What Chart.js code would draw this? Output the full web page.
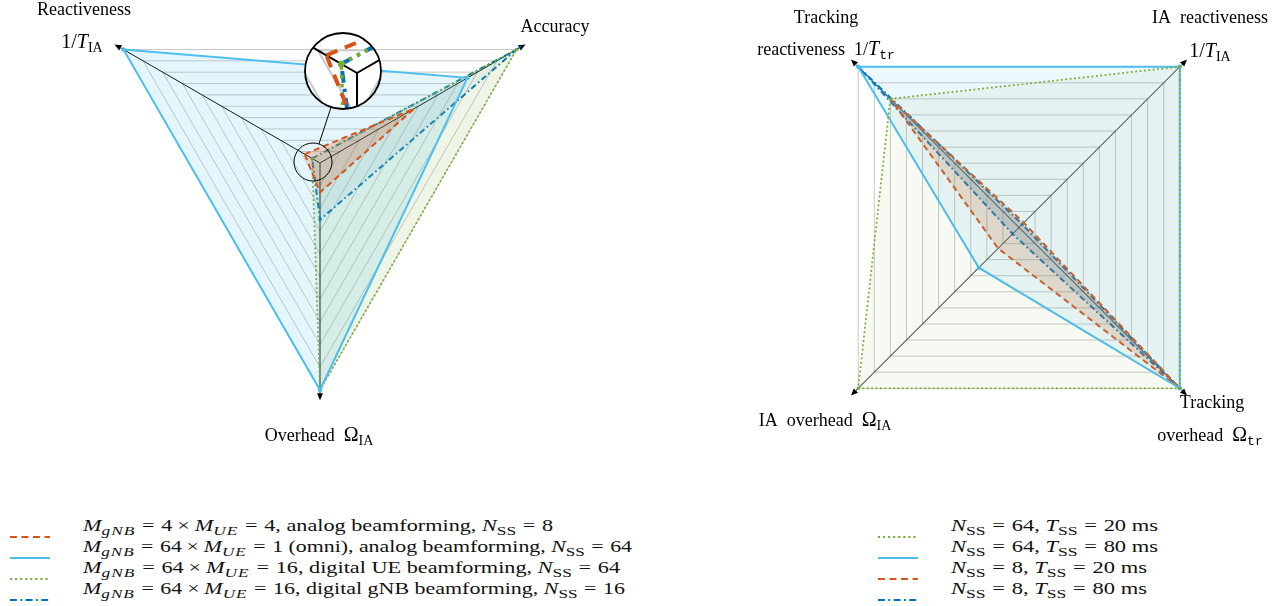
<!DOCTYPE html>
<html>
<head>
<meta charset="utf-8">
<title>IA / tracking radar charts</title>
<script src="https://cdn.jsdelivr.net/npm/chart.js@4.4.1/dist/chart.umd.min.js"></script>
<style>
  html, body { margin:0; padding:0; background:#fff; }
  body { width:1281px; height:606px; position:relative; overflow:hidden; color:#000; }
  canvas { position:absolute; top:0; }
  #left { left:0; }
  #right { left:640px; }
  .sw { position:absolute; }
  .lt { position:absolute; white-space:nowrap; font-family:'Liberation Serif','Times New Roman','DejaVu Serif',serif; font-size:17px; line-height:20px; transform-origin:0 50%; color:#111; }
  .lt sub { font-size:78%; vertical-align:-0.3em; line-height:0; }
  .lt sub i { letter-spacing:0.06em; }
  .lt .eq { margin:0 0.3em; }
  .lt .op { margin:0 0.22em; }
</style>
</head>
<body>
<canvas id="left" width="640" height="480"></canvas>
<canvas id="right" width="641" height="480"></canvas>
<div id="legend"></div>
<script>
// ---------------- data ----------------
// Left chart: axes in drawing order (clockwise starting at upper-left)
const LEFT_AXES = ['Reactiveness', 'Accuracy', 'Overhead'];
const LEFT_ANALOG_4X4   = [0.078, 0.48, 0.13];   // M_gNB=4 x M_UE=4, analog, N_SS=8
const LEFT_OMNI_64      = [1.00, 0.75, 1.00];    // M_gNB=64 x M_UE=1 (omni), analog, N_SS=64
const LEFT_DIGITAL_UE   = [0.04, 1.00, 1.00];    // 64 x 16, digital UE, N_SS=64
const LEFT_DIGITAL_GNB  = [0.04, 1.00, 0.25];    // 64 x 16, digital gNB, N_SS=16

// Right chart: axes clockwise starting at upper-left
const RIGHT_AXES = ['Tracking reactiveness', 'IA reactiveness', 'Tracking overhead', 'IA overhead'];
const NSS64_TSS20 = [0.80, 1.00, 1.00, 1.00];
const NSS64_TSS80 = [1.00, 1.00, 1.00, 0.25];
const NSS8_TSS20  = [0.80, 0.03, 1.00, 0.13];
const NSS8_TSS80  = [1.00, 0.02, 1.00, 0.04];

const SCALE_MIN = 0, SCALE_MAX = 1, GRID_STEP = 0.1;

const LEFT_NAMES = [
  '<i>M</i><sub><i>gNB</i></sub><span class="eq">=</span>4<span class="op">×</span><i>M</i><sub><i>UE</i></sub><span class="eq">=</span>4, analog beamforming, <i>N</i><sub>SS</sub><span class="eq">=</span>8',
  '<i>M</i><sub><i>gNB</i></sub><span class="eq">=</span>64<span class="op">×</span><i>M</i><sub><i>UE</i></sub><span class="eq">=</span>1 (omni), analog beamforming, <i>N</i><sub>SS</sub><span class="eq">=</span>64',
  '<i>M</i><sub><i>gNB</i></sub><span class="eq">=</span>64<span class="op">×</span><i>M</i><sub><i>UE</i></sub><span class="eq">=</span>16, digital UE beamforming, <i>N</i><sub>SS</sub><span class="eq">=</span>64',
  '<i>M</i><sub><i>gNB</i></sub><span class="eq">=</span>64<span class="op">×</span><i>M</i><sub><i>UE</i></sub><span class="eq">=</span>16, digital gNB beamforming, <i>N</i><sub>SS</sub><span class="eq">=</span>16'
];
const RIGHT_NAMES = [
  '<i>N</i><sub>SS</sub><span class="eq">=</span>64, <i>T</i><sub>SS</sub><span class="eq">=</span>20 ms',
  '<i>N</i><sub>SS</sub><span class="eq">=</span>64, <i>T</i><sub>SS</sub><span class="eq">=</span>80 ms',
  '<i>N</i><sub>SS</sub><span class="eq">=</span>8, <i>T</i><sub>SS</sub><span class="eq">=</span>20 ms',
  '<i>N</i><sub>SS</sub><span class="eq">=</span>8, <i>T</i><sub>SS</sub><span class="eq">=</span>80 ms'
];

// ---------------- styles ----------------
const STY = {
  orange: { rgb:[217,83,25],  width:2,   dash:[6,4],         pr:0 },
  light:  { rgb:[77,190,238], width:2,   dash:[],            pr:2.2 },
  green:  { rgb:[119,172,48], width:1.8, dash:[1.8,2.6],     pr:1.6 },
  dark:   { rgb:[0,114,189],  width:2,   dash:[6,3,1.6,3],   pr:1.6 }
};
const rgba = (c, a) => `rgba(${c[0]},${c[1]},${c[2]},${a})`;

function ds(label, data, sty, alpha) {
  return {
    label, data, fill: true, clip: false,
    borderColor: rgba(sty.rgb, 1), backgroundColor: rgba(sty.rgb, alpha),
    borderWidth: sty.width, borderDash: sty.dash, borderJoinStyle: 'miter',
    pointRadius: sty.pr, pointBackgroundColor: rgba(sty.rgb, 1), pointBorderWidth: 0, pointHoverRadius: 0
  };
}

// ---------------- text helpers ----------------
const FONTS = {
  rm:  { font: "18px 'Liberation Serif'", dy: 0 },
  mr:  { font: "20px 'Liberation Serif'", dy: 0 },
  it:  { font: "italic 20px 'Liberation Serif'", dy: 0 },
  sub: { font: "14px 'Liberation Serif'", dy: 4 },
  tt:  { font: "13px 'Liberation Mono'", dy: 4 }
};
function drawRich(ctx, segs, cx, base) {
  let w = 0;
  for (const [t, k] of segs) { ctx.font = FONTS[k].font; w += ctx.measureText(t).width; }
  let x = cx - w / 2;
  ctx.textAlign = 'left'; ctx.textBaseline = 'alphabetic'; ctx.fillStyle = '#000';
  for (const [t, k] of segs) { ctx.font = FONTS[k].font; ctx.fillText(t, x, base + FONTS[k].dy); x += ctx.measureText(t).width; }
}

// ---------------- plugins ----------------
function drawAxes(chart) {
  const s = chart.scales.r, ctx = chart.ctx, n = chart.data.labels.length;
  ctx.save();
  ctx.setLineDash([]); ctx.strokeStyle = '#000'; ctx.fillStyle = '#000'; ctx.lineWidth = 1;
  for (let i = 0; i < n; i++) {
    const tip = s.getPointPosition(i, s.drawingArea * 1.045);
    const a = tip.angle, L = 7, H = 3;
    const bx = tip.x - Math.cos(a) * L, by = tip.y - Math.sin(a) * L;
    ctx.beginPath(); ctx.moveTo(s.xCenter, s.yCenter); ctx.lineTo(bx, by); ctx.stroke();
    ctx.beginPath();
    ctx.moveTo(tip.x, tip.y);
    ctx.lineTo(bx - Math.sin(a) * H, by + Math.cos(a) * H);
    ctx.lineTo(bx + Math.sin(a) * H, by - Math.cos(a) * H);
    ctx.closePath(); ctx.fill();
  }
  ctx.restore();
}
const axesPlugin = { id: 'axes', beforeDatasetsDraw(chart) { drawAxes(chart); } };

function labelsPlugin(specs) {
  return { id: 'axisLabels', afterDraw(chart) {
    const ctx = chart.ctx; ctx.save();
    for (const sp of specs) drawRich(ctx, sp.segs, sp.x, sp.y);
    ctx.restore();
  } };
}

// magnifier (spy) on left chart
const magnifier = {
  id: 'magnifier',
  afterDraw(chart) {
    const ctx = chart.ctx, S = { x: 313, y: 162, r: 19 }, D = { x: 343, y: 71, r: 38 }, k = D.r / S.r;
    ctx.save();
    ctx.beginPath(); ctx.arc(D.x, D.y, D.r, 0, Math.PI * 2); ctx.clip();
    ctx.fillStyle = '#fff'; ctx.fillRect(D.x - D.r, D.y - D.r, 2 * D.r, 2 * D.r);
    ctx.translate(D.x - k * S.x, D.y - k * S.y); ctx.scale(k, k);
    const area = { left: -2000, top: -2000, right: 4000, bottom: 4000 };
    try { chart.scales.r.drawGrid(); } catch (e) {}
    drawAxes(chart);
    const metas = chart.getSortedVisibleDatasetMetas();
    for (let i = metas.length - 1; i >= 0; i--) {
      const m = metas[i];
      m.dataset.draw(ctx, area);
      m.data.forEach(p => p.draw(ctx, area));
    }
    ctx.restore();
    ctx.save();
    ctx.setLineDash([]); ctx.strokeStyle = '#000';
    ctx.lineWidth = 1; ctx.beginPath(); ctx.arc(S.x, S.y, S.r, 0, Math.PI * 2); ctx.stroke();
    ctx.lineWidth = 1.8; ctx.beginPath(); ctx.arc(D.x, D.y, D.r, 0, Math.PI * 2); ctx.stroke();
    const dx = D.x - S.x, dy = D.y - S.y, len = Math.hypot(dx, dy), ux = dx / len, uy = dy / len;
    ctx.lineWidth = 1; ctx.beginPath();
    ctx.moveTo(S.x + ux * S.r, S.y + uy * S.r); ctx.lineTo(D.x - ux * D.r, D.y - uy * D.r); ctx.stroke();
    ctx.restore();
  }
};

function makeRadar(id, labels, datasets, geom, startAngle, plugins) {
  return new Chart(document.getElementById(id), {
    type: 'radar',
    data: { labels, datasets },
    options: {
      responsive: false, animation: false, devicePixelRatio: 1,
      layout: { padding: 0 },
      plugins: { legend: { display: false }, tooltip: { enabled: false }, title: { display: false } },
      elements: { line: { tension: 0 } },
      scales: { r: {
        min: SCALE_MIN, max: SCALE_MAX, startAngle,
        ticks: { display: false, stepSize: GRID_STEP },
        grid: { color: '#c8c8c8', lineWidth: 1, circular: false },
        angleLines: { display: false },
        pointLabels: { display: false },
        afterFit(scale) { scale.xCenter = geom.cx; scale.yCenter = geom.cy; scale.drawingArea = geom.r; }
      } }
    },
    plugins: [axesPlugin].concat(plugins)
  });
}

// ---------------- left chart ----------------
makeRadar('left', LEFT_AXES, [
  ds(LEFT_AXES[0], LEFT_ANALOG_4X4, STY.orange, 0.22),
  ds(LEFT_AXES[1], LEFT_OMNI_64, STY.light, 0.15),
  ds(LEFT_AXES[2], LEFT_DIGITAL_UE, STY.green, 0.12),
  ds('gNB', LEFT_DIGITAL_GNB, STY.dark, 0.07)
], { cx: 320, cy: 163, r: 227 }, 300, [
  magnifier,
  labelsPlugin([
    { segs: [['Reactiveness', 'rm']], x: 84, y: 15 },
    { segs: [['1/', 'mr'], ['T', 'it'], ['IA', 'sub']], x: 82, y: 48 },
    { segs: [['Accuracy', 'rm']], x: 555, y: 32 },
    { segs: [['Overhead  ', 'rm'], ['Ω', 'mr'], ['IA', 'sub']], x: 319, y: 441 }
  ])
]);

// ---------------- right chart ----------------
makeRadar('right', RIGHT_AXES, [
  ds('64/20', NSS64_TSS20, STY.green, 0.06),
  ds('64/80', NSS64_TSS80, STY.light, 0.11),
  ds('8/20', NSS8_TSS20, STY.orange, 0.2),
  ds('8/80', NSS8_TSS80, STY.dark, 0.2)
], { cx: 379, cy: 227.5, r: 227.4 }, 315, [
  labelsPlugin([
    { segs: [['Tracking', 'rm']], x: 186, y: 23 },
    { segs: [['reactiveness  1/', 'rm'], ['T', 'it'], ['tr', 'tt']], x: 186, y: 55 },
    { segs: [['IA  reactiveness', 'rm']], x: 570, y: 23 },
    { segs: [['1/', 'mr'], ['T', 'it'], ['IA', 'sub']], x: 570, y: 57 },
    { segs: [['IA  overhead  ', 'rm'], ['Ω', 'mr'], ['IA', 'sub']], x: 185, y: 426 },
    { segs: [['Tracking', 'rm']], x: 572, y: 408 },
    { segs: [['overhead  ', 'rm'], ['Ω', 'mr'], ['tr', 'tt']], x: 570, y: 441 }
  ])
]);

// ---------------- legends (HTML) ----------------
function swatch(sty) {
  const dash = sty.dash.length ? sty.dash.map(v => v * 1.15).join(',') : 'none';
  return `<svg width="40" height="6" viewBox="0 0 40 6"><line x1="0" y1="3" x2="40" y2="3" stroke="${rgba(sty.rgb,1)}" stroke-width="${sty.width}" stroke-dasharray="${dash}"/></svg>`;
}
const legendEl = document.getElementById('legend');
const ROW_Y = [529, 550, 571, 592];
function legend(names, styles, swX, txtX, rightEdges) {
  names.forEach((nm, i) => {
    const s = document.createElement('div'); s.className = 'sw';
    s.style.left = swX + 'px'; s.style.top = (ROW_Y[i] - 3) + 'px'; s.innerHTML = swatch(styles[i]);
    const t = document.createElement('div'); t.className = 'lt';
    t.style.left = txtX + 'px'; t.style.top = (ROW_Y[i] - 13) + 'px'; t.innerHTML = nm;
    legendEl.appendChild(s); legendEl.appendChild(t);
    const w = t.getBoundingClientRect().width;
    t.style.transform = `scaleX(${((rightEdges[i] - txtX) / w).toFixed(4)})`;
  });
}
legend(LEFT_NAMES, [STY.orange, STY.light, STY.green, STY.dark], 10, 83, [553, 632, 620, 625]);
legend(RIGHT_NAMES, [STY.green, STY.light, STY.orange, STY.dark], 878, 951, [1158, 1158, 1147, 1147]);
</script>
</body>
</html>
